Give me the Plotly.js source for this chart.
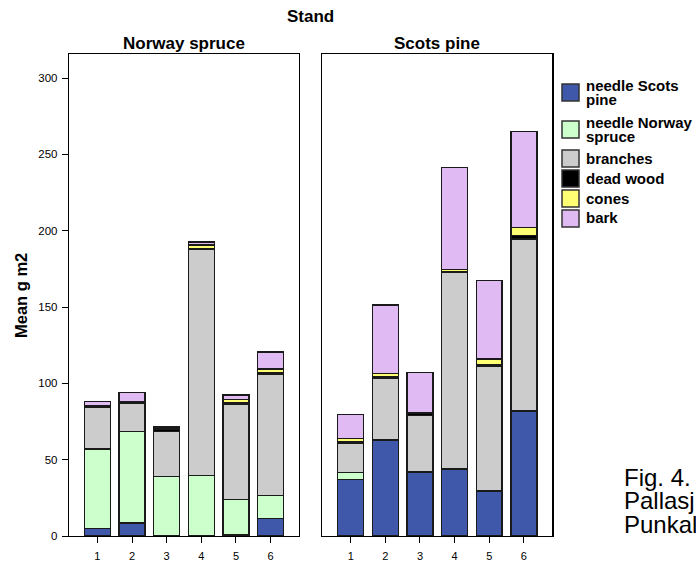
<!DOCTYPE html>
<html>
<head>
<meta charset="utf-8">
<script src="https://cdn.plot.ly/plotly-3.0.1.min.js"></script>
<style>html,body{margin:0;padding:0;background:#fff;}#chart{width:696px;height:562px;}</style>
</head>
<body>
<div id="chart"></div>
<script>
// ---- data ----
const stands = [1, 2, 3, 4, 5, 6];
const components = ["needle Scots pine", "needle Norway spruce", "branches", "dead wood", "cones", "bark"];
const legendLines = [["needle Scots", "pine"], ["needle Norway", "spruce"], ["branches"], ["dead wood"], ["cones"], ["bark"]];
const colors = ["#3f58aa", "#ccffcc", "#cccccc", "#000000", "#ffff73", "#e0baf2"];
const panels = ["Norway spruce", "Scots pine"];

// Norway spruce stand
const spruceNeedleScots  = [5, 8.5, 0, 0, 1, 11.5];
const spruceNeedleNorway = [52, 60, 39, 39.5, 23, 15];
const spruceBranches     = [27.5, 18.5, 29.5, 148.5, 62, 79.5];
const spruceDeadWood     = [1, 1, 1.5, 0.5, 1, 1];
const spruceCones        = [0, 0, 0.5, 2, 2.5, 2.5];
const spruceBark         = [2.5, 6, 1, 2, 3, 11];

// Scots pine stand
const pineNeedleScots  = [37, 63, 42, 44, 29.5, 82];
const pineNeedleNorway = [4.5, 0, 0, 0, 0, 0];
const pineBranches     = [19, 40.5, 37, 128.5, 81.5, 112.5];
const pineDeadWood     = [1, 1, 1.5, 0.5, 1, 2.5];
const pineCones        = [2.5, 2, 0, 1.5, 4, 5];
const pineBark         = [15.5, 45, 26.5, 67, 51.5, 63];

const yTicks = [0, 50, 100, 150, 200, 250, 300];
const figLines = ["Fig. 4.", "Pallasj", "Punkal"];

// ---- build ----
const W = 696, H = 562;
const px = x => x / W;
const py = y => 1 - y / H;

const spruceSeries = [spruceNeedleScots, spruceNeedleNorway, spruceBranches, spruceDeadWood, spruceCones, spruceBark];
const pineSeries = [pineNeedleScots, pineNeedleNorway, pineBranches, pineDeadWood, pineCones, pineBark];

const traces = [];
[[spruceSeries, 'x', 'y'], [pineSeries, 'x2', 'y2']].forEach(([series, xa, ya]) => {
  series.forEach((vals, i) => {
    traces.push({
      type: 'bar', x: stands, y: vals, name: components[i],
      xaxis: xa, yaxis: ya, width: 0.75, showlegend: false,
      marker: {color: colors[i], line: {color: '#1a1a1a', width: 1.5}},
      hoverinfo: 'name+y'
    });
  });
});

const font = 'Liberation Sans, Arial, sans-serif';
const xCommon = {
  range: [0.18, 6.82], tickvals: stands, ticktext: stands.map(String),
  showline: true, mirror: true, linecolor: '#000', linewidth: 1.2,
  ticks: 'outside', ticklen: 6, tickcolor: '#000', tickwidth: 1,
  tickfont: {family: font, size: 11, color: '#000'},
  showgrid: false, zeroline: false, fixedrange: true, ticklabelstandoff: 4
};
const yRange = [0, 315.6];
const yDomain = [py(536), py(54.3)];

const annotations = [
  {text: '<b>Stand</b>', x: px(310), y: py(17), xref: 'paper', yref: 'paper', showarrow: false,
   font: {family: font, size: 17, color: '#000'}, xanchor: 'center', yanchor: 'middle'},
  {text: '<b>' + panels[0] + '</b>', x: px(184), y: py(43), xref: 'paper', yref: 'paper', showarrow: false,
   font: {family: font, size: 17, color: '#000'}, xanchor: 'center', yanchor: 'middle'},
  {text: '<b>' + panels[1] + '</b>', x: px(437), y: py(43), xref: 'paper', yref: 'paper', showarrow: false,
   font: {family: font, size: 17, color: '#000'}, xanchor: 'center', yanchor: 'middle'},
  {text: '<b>Mean g m2</b>', x: px(21), y: py(296), xref: 'paper', yref: 'paper', showarrow: false, textangle: -90,
   font: {family: font, size: 16.5, color: '#000'}, xanchor: 'center', yanchor: 'middle'}
];
const figBase = [485, 508, 532];
figLines.forEach((t, i) => {
  annotations.push({text: t, x: px(622), y: py(figBase[i] - 8), xref: 'paper', yref: 'paper', showarrow: false,
    font: {family: font, size: 24, color: '#000'}, xanchor: 'left', yanchor: 'middle'});
});

// custom legend
const shapes = [];
const legTop = [84, 121, 150, 170, 190, 210];
legendLines.forEach((lines, i) => {
  const t = legTop[i];
  shapes.push({type: 'rect', xref: 'paper', yref: 'paper', x0: px(562), x1: px(579), y0: py(t), y1: py(t + 17),
    fillcolor: colors[i], line: {color: '#333', width: 1.5}});
  const firstBase = lines.length > 1 ? t + 6.5 : t + 13;
  lines.forEach((ln, j) => {
    annotations.push({text: '<b>' + ln + '</b>', x: px(584), y: py(firstBase + j * 14.5 - 5), xref: 'paper', yref: 'paper',
      showarrow: false, font: {family: font, size: 15, color: '#000'}, xanchor: 'left', yanchor: 'middle'});
  });
});

const layout = {
  width: W, height: H, margin: {l: 0, r: 0, t: 0, b: 0},
  paper_bgcolor: '#fff', plot_bgcolor: '#fff',
  barmode: 'stack', bargap: 0.25,
  showlegend: false,
  xaxis: Object.assign({}, xCommon, {domain: [px(69), px(299)], anchor: 'y'}),
  xaxis2: Object.assign({}, xCommon, {domain: [px(322.3), px(552.3)], anchor: 'y2'}),
  yaxis: {domain: yDomain, range: yRange, tickvals: yTicks, anchor: 'x',
    showline: true, mirror: true, linecolor: '#000', linewidth: 1.2,
    ticks: 'outside', ticklen: 6, tickcolor: '#000', tickwidth: 1,
    tickfont: {family: font, size: 11.5, color: '#000'}, showgrid: false, zeroline: false, fixedrange: true,
    ticklabelstandoff: 2},
  yaxis2: {domain: yDomain, range: yRange, anchor: 'x2', showticklabels: false, ticks: '',
    showline: true, mirror: true, linecolor: '#000', linewidth: 1.2, showgrid: false, zeroline: false, fixedrange: true},
  annotations: annotations,
  shapes: shapes,
  font: {family: font, color: '#000'}
};

Plotly.newPlot('chart', traces, layout, {displayModeBar: false, staticPlot: true});
</script>
</body>
</html>
